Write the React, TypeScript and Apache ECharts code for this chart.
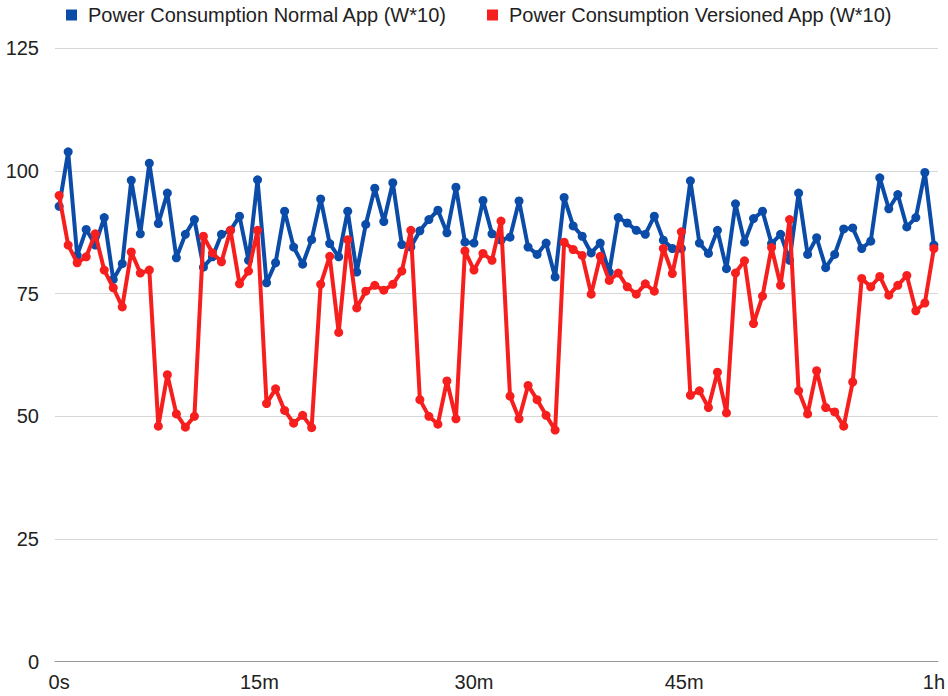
import React, { useEffect, useRef } from "react";
import * as echarts from "echarts";

const seriesNames = [
  "Power Consumption Normal App (W*10)",
  "Power Consumption Versioned App (W*10)",
];

const normalApp = [
  92.8, 103.9, 82.8, 88.1, 84.9, 90.5, 77.9, 81.1, 98.1, 87.2,
  101.6, 89.3, 95.5, 82.3, 87.1, 90.1, 80.4, 82.5, 87.1, 87.9,
  90.8, 81.8, 98.2, 77.2, 81.3, 91.8, 84.5, 81.0, 86.0, 94.3,
  85.2, 82.5, 91.8, 79.4, 89.1, 96.5, 89.7, 97.6, 85.0, 84.5,
  87.8, 90.1, 92.0, 87.4, 96.7, 85.5, 85.3, 94.0, 87.2, 85.9,
  86.5, 93.9, 84.5, 83.0, 85.3, 78.4, 94.6, 88.8, 86.7, 83.3,
  85.3, 79.4, 90.5, 89.4, 87.9, 87.1, 90.8, 85.9, 84.2, 84.2,
  98.0, 85.3, 83.2, 87.9, 80.1, 93.3, 85.5, 90.3, 91.8, 85.2,
  87.1, 81.8, 95.5, 83.0, 86.4, 80.3, 83.0, 88.2, 88.4, 84.2,
  85.7, 98.6, 92.3, 95.2, 88.6, 90.5, 99.7, 84.9,
];

const versionedApp = [
  95.0, 84.9, 81.3, 82.5, 87.2, 79.8, 76.2, 72.3, 83.5, 79.2,
  79.8, 48.0, 58.5, 50.5, 47.8, 50.0, 86.7, 83.3, 81.5, 87.9,
  77.0, 79.6, 87.9, 52.6, 55.6, 51.2, 48.6, 50.2, 47.7, 76.9,
  82.6, 67.1, 86.0, 72.1, 75.5, 76.7, 75.7, 76.9, 79.6, 87.9,
  53.4, 50.0, 48.4, 57.2, 49.5, 83.7, 79.8, 83.2, 81.8, 89.8,
  54.1, 49.5, 56.3, 53.4, 50.2, 47.2, 85.5, 84.0, 82.8, 74.9,
  82.6, 77.7, 79.2, 76.4, 74.9, 77.0, 75.5, 84.2, 79.1, 87.6,
  54.3, 55.2, 51.8, 59.0, 50.7, 79.2, 81.7, 68.9, 74.5, 84.4,
  76.7, 90.1, 55.2, 50.5, 59.3, 51.8, 50.9, 48.0, 57.0, 78.1,
  76.4, 78.5, 74.7, 76.7, 78.7, 71.5, 73.1, 84.2,
];

// sample positions of the time tick labels
const xTickPositions = [0, 22.2, 46, 69.3, 97];
const xTickLabels = ["0s", "15m", "30m", "45m", "1h"];

const yTicks = [0, 25, 50, 75, 100, 125];

const colors = ["#0b4ca8", "#f71e1e"];

export default function App() {
  const ref = useRef<HTMLDivElement>(null);

  useEffect(() => {
    document.body.style.margin = "0";
    if (!ref.current) return;
    const chart = echarts.init(ref.current, null, { renderer: "svg" });
    const font = "'Liberation Sans', Arial, sans-serif";
    const toPairs = (arr: number[]) => arr.map((v, i) => [i, v]);
    chart.setOption({
      animation: false,
      textStyle: { fontFamily: font },
      legend: {
        top: 0,
        left: 61,
        icon: "rect",
        itemWidth: 11,
        itemHeight: 11,
        itemGap: 40,
        textStyle: {
          fontFamily: font,
          fontSize: 20,
          color: "#222",
          padding: [0, 0, 0, 6],
        },
        data: seriesNames,
      },
      grid: { left: 55, right: 8, top: 48.3, bottom: 34.3, containLabel: false },
      xAxis: {
        type: "value",
        min: -0.46,
        max: 97.46,
        splitLine: { show: false },
        axisTick: { show: false },
        axisLine: { show: true, lineStyle: { color: "#9a9a9a", width: 1 } },
        axisLabel: {
          customValues: xTickPositions,
          formatter: (v: number) => {
            const i = xTickPositions.findIndex((p) => Math.abs(p - v) < 1e-6);
            return i >= 0 ? xTickLabels[i] : "";
          },
          fontFamily: font,
          fontSize: 20,
          color: "#222",
          margin: 10,
        },
      },
      yAxis: {
        type: "value",
        min: yTicks[0],
        max: yTicks[yTicks.length - 1],
        interval: 25,
        axisLine: { show: false },
        axisTick: { show: false },
        splitLine: { show: true, lineStyle: { color: "#d6d6d6", width: 1 } },
        axisLabel: {
          fontFamily: font,
          fontSize: 20,
          color: "#222",
          margin: 16,
        },
      },
      series: [
        {
          name: seriesNames[0],
          type: "line",
          data: toPairs(normalApp),
          color: colors[0],
          lineStyle: { width: 4, color: colors[0] },
          itemStyle: { color: colors[0] },
          symbol: "circle",
          symbolSize: 9,
          showSymbol: true,
          z: 2,
        },
        {
          name: seriesNames[1],
          type: "line",
          data: toPairs(versionedApp),
          color: colors[1],
          lineStyle: { width: 4, color: colors[1] },
          itemStyle: { color: colors[1] },
          symbol: "circle",
          symbolSize: 9,
          showSymbol: true,
          z: 3,
        },
      ],
    });
    return () => chart.dispose();
  }, []);

  return <div ref={ref} style={{ width: 948, height: 696 }} />;
}
